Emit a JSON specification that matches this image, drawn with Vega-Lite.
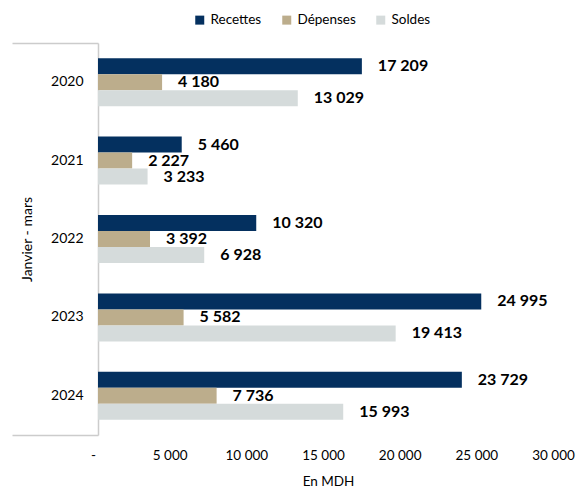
{
  "$schema": "https://vega.github.io/schema/vega-lite/v6.json",
  "width": 460,
  "height": 392,
  "autosize": {"type": "none"},
  "padding": {"left": 98, "top": 43, "right": 28, "bottom": 57},
  "config": {
    "locale": {"number": {"decimal": ",", "thousands": " ", "grouping": [3], "currency": ["", ""]}},
    "font": "Lato",
    "view": {"stroke": null}
  },
  "data": {
    "values": [
      {"annee": "2020", "serie": "Recettes", "valeur": 17209},
      {"annee": "2020", "serie": "Dépenses", "valeur": 4180},
      {"annee": "2020", "serie": "Soldes", "valeur": 13029},
      {"annee": "2021", "serie": "Recettes", "valeur": 5460},
      {"annee": "2021", "serie": "Dépenses", "valeur": 2227},
      {"annee": "2021", "serie": "Soldes", "valeur": 3233},
      {"annee": "2022", "serie": "Recettes", "valeur": 10320},
      {"annee": "2022", "serie": "Dépenses", "valeur": 3392},
      {"annee": "2022", "serie": "Soldes", "valeur": 6928},
      {"annee": "2023", "serie": "Recettes", "valeur": 24995},
      {"annee": "2023", "serie": "Dépenses", "valeur": 5582},
      {"annee": "2023", "serie": "Soldes", "valeur": 19413},
      {"annee": "2024", "serie": "Recettes", "valeur": 23729},
      {"annee": "2024", "serie": "Dépenses", "valeur": 7736},
      {"annee": "2024", "serie": "Soldes", "valeur": 15993}
    ]
  },
  "encoding": {
    "x": {
      "field": "valeur",
      "type": "quantitative",
      "scale": {"domain": [0, 30000], "nice": false},
      "axis": {
        "values": [0, 5000, 10000, 15000, 20000, 25000, 30000],
        "labelExpr": "datum.value == 0 ? '-' : format(datum.value, ',')",
        "labelFlush": false,
        "labelOffset": -5,
        "grid": false,
        "domain": false,
        "ticks": false,
        "labelPadding": 13,
        "labelFontSize": 13.5,
        "labelColor": "#000000",
        "title": "En MDH",
        "titleFontSize": 13.5,
        "titleFontWeight": "normal",
        "titleColor": "#000000",
        "titlePadding": 13
      }
    },
    "yOffset": {
      "field": "serie",
      "type": "nominal",
      "sort": ["Recettes", "Dépenses", "Soldes"],
      "scale": {"paddingInner": 0, "paddingOuter": 0.95}
    }
  },
  "layer": [
    {
      "mark": {"type": "bar"},
      "encoding": {
        "y": {
          "field": "annee",
          "type": "nominal",
          "scale": {"paddingInner": 0, "paddingOuter": 0},
          "axis": {
            "orient": "left",
            "ticks": false,
            "domain": true,
            "domainColor": "#cccccc",
            "domainWidth": 1.5,
            "labelPadding": 15,
            "labelFontSize": 14,
            "labelColor": "#000000",
            "title": "Janvier - mars",
            "titleFontSize": 14,
            "titleFontWeight": "normal",
            "titleColor": "#000000",
            "titlePadding": 16
          }
        },
        "color": {
          "field": "serie",
          "type": "nominal",
          "scale": {"domain": ["Recettes", "Dépenses", "Soldes"], "range": ["#04305f", "#bcad8c", "#d5dbdb"]},
          "legend": {
            "title": null,
            "orient": "none",
            "direction": "horizontal",
            "legendX": 95,
            "legendY": -30,
            "symbolType": "square",
            "symbolSize": 81,
            "symbolStrokeWidth": 0,
            "labelFontSize": 13.5,
            "labelColor": "#000000",
            "labelOffset": 4,
            "columnPadding": 18,
            "padding": 0
          }
        }
      }
    },
    {
      "mark": {"type": "text", "align": "left", "baseline": "middle", "dx": 16, "fontSize": 16, "fontWeight": "bold", "color": "#000000"},
      "encoding": {
        "y": {
          "field": "annee",
          "type": "nominal",
          "axis": {
            "orient": "left",
            "tickBand": "extent",
            "ticks": true,
            "tickSize": 86,
            "tickColor": {"condition": {"test": "datum.index < 0 || datum.value == '2024'", "value": "#cccccc"}, "value": "transparent"},
            "tickWidth": 1.5,
            "labels": false,
            "domain": false,
            "title": null
          }
        },
        "text": {"field": "valeur", "type": "quantitative", "format": ","}
      }
    }
  ],
  "resolve": {"axis": {"y": "independent"}}
}
